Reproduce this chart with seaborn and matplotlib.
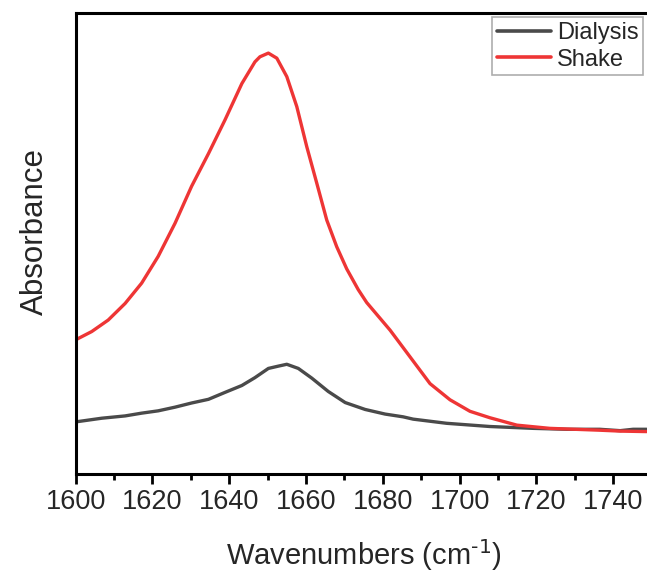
import matplotlib
matplotlib.use("Agg")
import matplotlib.pyplot as plt
from matplotlib.ticker import MultipleLocator
import seaborn as sns
import pandas as pd

# FTIR amide I region, two sample preparations (arbitrary absorbance units)
shake_wn = [1600.0, 1604.2, 1608.5, 1612.9, 1617.2, 1621.5, 1625.9, 1630.2, 1634.6,
            1638.9, 1643.3, 1645.4, 1646.7, 1648.0, 1650.2, 1652.4, 1655.0, 1657.6,
            1660.2, 1662.8, 1665.4, 1668.0, 1670.6, 1673.6, 1675.8, 1681.9, 1687.1,
            1692.3, 1697.5, 1702.7, 1707.9, 1714.9, 1723.5, 1736.5, 1742.0, 1748.7]
shake_abs = [0.291, 0.309, 0.334, 0.370, 0.414, 0.472, 0.544, 0.624, 0.695,
             0.768, 0.847, 0.876, 0.894, 0.905, 0.913, 0.902, 0.862, 0.797,
             0.710, 0.631, 0.551, 0.493, 0.445, 0.400, 0.372, 0.312, 0.254,
             0.196, 0.161, 0.136, 0.122, 0.106, 0.099, 0.095, 0.093, 0.092]

dialysis_wn = [1600.0, 1606.8, 1612.9, 1617.2, 1621.5, 1625.9, 1630.2, 1634.6, 1638.9,
               1643.3, 1646.7, 1650.2, 1652.8, 1655.0, 1658.0, 1661.5, 1665.8, 1670.2,
               1675.4, 1680.6, 1685.3, 1687.9, 1696.6, 1707.9, 1719.2, 1727.9, 1736.5,
               1741.8, 1745.2, 1748.7]
dialysis_abs = [0.113, 0.121, 0.126, 0.132, 0.137, 0.145, 0.154, 0.162, 0.177,
                0.192, 0.209, 0.229, 0.234, 0.238, 0.229, 0.208, 0.179, 0.155,
                0.140, 0.130, 0.124, 0.119, 0.110, 0.103, 0.099, 0.097, 0.097,
                0.094, 0.097, 0.097]

df = pd.concat([
    pd.DataFrame({"wn": dialysis_wn, "abs": dialysis_abs, "sample": "Dialysis"}),
    pd.DataFrame({"wn": shake_wn, "abs": shake_abs, "sample": "Shake"}),
])

sns.set_style("white")
plt.rcParams["font.family"] = ["Liberation Sans", "DejaVu Sans"]

W, H = 647, 572
fig = plt.figure(figsize=(W / 100, H / 100), dpi=100)
ax = fig.add_axes([75.6 / W, 1 - 474 / H, 576 / W, 461 / H])

sns.lineplot(data=df, x="wn", y="abs", hue="sample",
             palette={"Dialysis": "#4a4a4a", "Shake": "#ee3535"},
             linewidth=2.4, ax=ax, sort=False, estimator=None)

ax.set_xlim(1600, 1750)
ax.set_ylim(0, 1.0)
ax.xaxis.set_major_locator(MultipleLocator(20))
ax.xaxis.set_minor_locator(MultipleLocator(10))
ax.tick_params(axis="x", which="major", direction="out", length=7, width=2,
               labelsize=19.5, pad=4, bottom=True, color="black")
ax.tick_params(axis="x", which="minor", direction="out", length=4, width=2,
               bottom=True, color="black")
ax.set_yticks([])

for side in ("left", "bottom", "top"):
    ax.spines[side].set_visible(True)
    ax.spines[side].set_linewidth(2.2)
    ax.spines[side].set_color("black")
ax.spines["right"].set_visible(False)

ax.set_xlabel(r"Wavenumbers (cm$^{\text{-}1}$)", fontsize=21, labelpad=16)
ax.set_ylabel("Absorbance", fontsize=22.5)
ax.yaxis.set_label_coords(-0.045, 0.527)

leg = ax.legend(loc="upper left", bbox_to_anchor=(0.723, 0.991), borderaxespad=0,
                fontsize=17, frameon=True, fancybox=False, borderpad=0.2,
                handlelength=2.3, handletextpad=0.25, labelspacing=0.2)
leg.get_frame().set_edgecolor("#999999")
leg.get_frame().set_linewidth(1.2)
for line in leg.get_lines():
    line.set_linewidth(2.6)

fig.savefig("out.png", dpi=100)
